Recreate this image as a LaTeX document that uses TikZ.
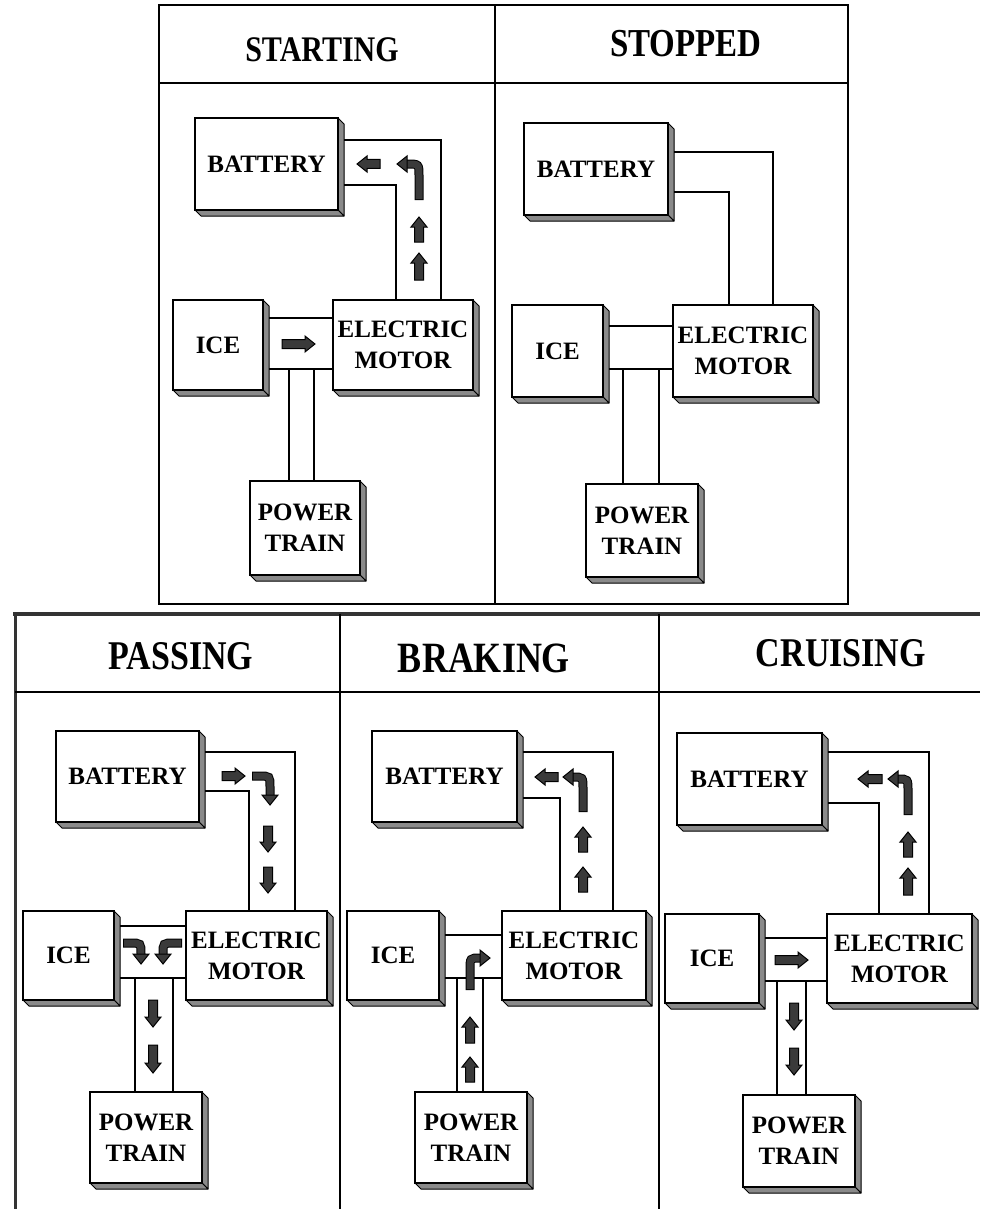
\documentclass[tikz,border=0pt]{standalone}
\usepackage{fontspec}
\setmainfont{Liberation Serif}
\usetikzlibrary{calc}

\definecolor{arrowfill}{HTML}{3A3A3A}
\definecolor{sidegray}{HTML}{8A8A8A}

\tikzset{
  frontface/.style={draw=black, line width=1.6, fill=white, inner sep=0pt, outer sep=0pt,
    align=center, font=\fontsize{25}{31}\selectfont\bfseries},
  sideface/.style={draw=black, line width=1, fill=sidegray, line join=round},
  channel/.style={draw=black, line width=1.6},
  gridline/.style={draw=black, line width=1.8},
  heading/.style={inner sep=0pt, font=\fontsize{#1}{#1}\selectfont\bfseries},
  heading/.default=30,
  pics/head/.style={code={\filldraw[fill=arrowfill, draw=black, line width=1, line join=miter]
      (0,-8) -- (10,0) -- (0,8) -- cycle;}}
}

% a raised box: name, left, top, right, bottom, label
\newcommand\unitbox[6]{%
  \filldraw[sideface] (#4,#3) -- ({#4+6},{#3+6}) -- ({#4+6},{#5+6}) -- (#4,#5) -- cycle;
  \filldraw[sideface] (#2,#5) -- ({#2+6},{#5+6}) -- ({#4+6},{#5+6}) -- (#4,#5) -- cycle;
  \pgfmathsetmacro\uw{#4-#2}\pgfmathsetmacro\uh{#5-#3}%
  \node[frontface, minimum width=\uw pt, minimum height=\uh pt] (#1) at ({(#2+#4)/2},{(#3+#5)/2}) {#6};
}

% straight block arrow: tail x, tail y, direction, length
\newcommand\flowarrow[4]{%
  \begin{scope}[shift={(#1,#2)}, rotate=#3]
    \filldraw[fill=arrowfill, draw=black, line width=1, line join=miter]
      (0,-4.5) -- ({#4-10},-4.5) -- ({#4-10},-8) -- (#4,0) -- ({#4-10},8) -- ({#4-10},4.5) -- (0,4.5) -- cycle;
  \end{scope}}

% bent block arrow: shaft path, head base, head direction
\newcommand\bentarrow[3]{%
  \draw[line width=9, black, line cap=butt] #1;
  \draw[line width=7, arrowfill, line cap=butt, shorten <=1] #1;
  \pic[rotate=#3] at #2 {head};}

\begin{document}
\begin{tikzpicture}[x=1pt, y=-1pt]
\useasboundingbox (0,0) rectangle (980,1209);
\fill[white] (0,0) rectangle (980,1209);

% ---------- upper table ----------
\draw[gridline] (159,5) rectangle (848,604);
\draw[gridline] (495,5) -- (495,604);
\draw[gridline] (159,83) -- (848,83);
\node[heading=30] (hA) at (322,50) {\scalebox{1}[1.2]{STARTING}};
\node[heading=33] (hB) at (686,44) {\scalebox{1}[1.2]{STOPPED}};

% ---------- lower table ----------
\draw[line width=4, black!80] (13,614) -- (980,614);
\draw[line width=3, black!80] (15,612) -- (15,1209);
\draw[gridline] (15,692) -- (980,692);
\draw[gridline] (340,614) -- (340,1209);
\draw[gridline] (659,614) -- (659,1209);
\node[heading=34] (hC) at (181,656) {\scalebox{1}[1.2]{PASSING}};
\node[heading=36] (hD) at (484,658) {\scalebox{1}[1.2]{BRAKING}};
\node[heading=34] (hE) at (841,653) {\scalebox{1}[1.2]{CRUISING}};

% ---------- starting ----------
\unitbox{bA}{195}{118}{338}{210}{BATTERY}
\unitbox{iA}{173}{300}{263}{390}{ICE}
\unitbox{eA}{333}{300}{473}{390}{ELECTRIC\\MOTOR}
\unitbox{pA}{250}{481}{360}{575}{POWER\\TRAIN}
\draw[channel] ($(bA.north east)+(6,22)$) -| ($(eA.north west)+(108,0)$);
\draw[channel] ($(bA.north east)+(6,67)$) -| ($(eA.north west)+(63,0)$);
\draw[channel] ($(iA.north east)+(6,18)$) coordinate (t) -- (t -| eA.west);
\draw[channel] ($(iA.north east)+(6,69)$) coordinate (t) -- (t -| eA.west);
\draw[channel] ($(iA.north east)+(26,69)$) coordinate (t) -- (t |- pA.north);
\draw[channel] ($(iA.north east)+(51,69)$) coordinate (t) -- (t |- pA.north);
\flowarrow{380}{164}{180}{23}
\bentarrow{(419,200) -- (419,176) .. controls (419,164) .. (407,164)}{(407,164)}{180}
\flowarrow{419}{242}{90}{25}
\flowarrow{419}{280}{90}{27}
\flowarrow{282}{344}{0}{33}

% ---------- stopped ----------
\unitbox{bB}{524}{123}{668}{215}{BATTERY}
\unitbox{iB}{512}{305}{603}{397}{ICE}
\unitbox{eB}{673}{305}{813}{397}{ELECTRIC\\MOTOR}
\unitbox{pB}{586}{484}{698}{577}{POWER\\TRAIN}
\draw[channel] ($(bB.north east)+(6,29)$) -| ($(eB.north west)+(100,0)$);
\draw[channel] ($(bB.north east)+(6,69)$) -| ($(eB.north west)+(56,0)$);
\draw[channel] ($(iB.north east)+(6,21)$) coordinate (t) -- (t -| eB.west);
\draw[channel] ($(iB.north east)+(6,64)$) coordinate (t) -- (t -| eB.west);
\draw[channel] ($(iB.north east)+(20,64)$) coordinate (t) -- (t |- pB.north);
\draw[channel] ($(iB.north east)+(56,64)$) coordinate (t) -- (t |- pB.north);

% ---------- passing ----------
\unitbox{bC}{56}{731}{199}{822}{BATTERY}
\unitbox{iC}{23}{911}{114}{1000}{ICE}
\unitbox{eC}{186}{911}{327}{1000}{ELECTRIC\\MOTOR}
\unitbox{pC}{90}{1092}{202}{1183}{POWER\\TRAIN}
\draw[channel] ($(bC.north east)+(6,21)$) -| ($(eC.north west)+(109,0)$);
\draw[channel] ($(bC.north east)+(6,60)$) -| ($(eC.north west)+(63,0)$);
\draw[channel] ($(iC.north east)+(6,15)$) coordinate (t) -- (t -| eC.west);
\draw[channel] ($(iC.north east)+(6,67)$) coordinate (t) -- (t -| eC.west);
\draw[channel] ($(iC.north east)+(21,67)$) coordinate (t) -- (t |- pC.north);
\draw[channel] ($(iC.north east)+(59,67)$) coordinate (t) -- (t |- pC.north);
\flowarrow{222}{776}{0}{23}
\bentarrow{(252,776) -- (259,776) .. controls (270,776) .. (270,787) -- (270,795)}{(270,795)}{270}
\flowarrow{268}{826}{270}{26}
\flowarrow{268}{867}{270}{26}
\bentarrow{(123,943) -- (130,943) .. controls (141,943) .. (141,954)}{(141,954)}{270}
\bentarrow{(182,943) -- (174,943) .. controls (163,943) .. (163,954)}{(163,954)}{270}
\flowarrow{153}{1000}{270}{27}
\flowarrow{153}{1045}{270}{28}

% ---------- braking ----------
\unitbox{bD}{372}{731}{517}{822}{BATTERY}
\unitbox{iD}{347}{911}{439}{1000}{ICE}
\unitbox{eD}{502}{911}{646}{1000}{ELECTRIC\\MOTOR}
\unitbox{pD}{415}{1092}{527}{1183}{POWER\\TRAIN}
\draw[channel] ($(bD.north east)+(6,21)$) -| ($(eD.north west)+(111,0)$);
\draw[channel] ($(bD.north east)+(6,67)$) -| ($(eD.north west)+(58,0)$);
\draw[channel] ($(iD.north east)+(6,24)$) coordinate (t) -- (t -| eD.west);
\draw[channel] ($(iD.north east)+(6,67)$) coordinate (t) -- (t -| eD.west);
\draw[channel] ($(iD.north east)+(18,67)$) coordinate (t) -- (t |- pD.north);
\draw[channel] ($(iD.north east)+(44,67)$) coordinate (t) -- (t |- pD.north);
\flowarrow{558}{777}{180}{23}
\bentarrow{(583,812) -- (583,789) .. controls (583,777) .. (573,777)}{(573,777)}{180}
\flowarrow{583}{852}{90}{25}
\flowarrow{583}{892}{90}{25}
\bentarrow{(470,990) -- (470,970) .. controls (470,958) .. (480,958)}{(480,958)}{0}
\flowarrow{470}{1043}{90}{26}
\flowarrow{470}{1082}{90}{25}

% ---------- cruising ----------
\unitbox{bE}{677}{733}{822}{825}{BATTERY}
\unitbox{iE}{665}{914}{759}{1003}{ICE}
\unitbox{eE}{827}{914}{972}{1003}{ELECTRIC\\MOTOR}
\unitbox{pE}{743}{1095}{855}{1187}{POWER\\TRAIN}
\draw[channel] ($(bE.north east)+(6,19)$) -| ($(eE.north west)+(102,0)$);
\draw[channel] ($(bE.north east)+(6,70)$) -| ($(eE.north west)+(52,0)$);
\draw[channel] ($(iE.north east)+(6,24)$) coordinate (t) -- (t -| eE.west);
\draw[channel] ($(iE.north east)+(6,67)$) coordinate (t) -- (t -| eE.west);
\draw[channel] ($(iE.north east)+(18,67)$) coordinate (t) -- (t |- pE.north);
\draw[channel] ($(iE.north east)+(47,67)$) coordinate (t) -- (t |- pE.north);
\flowarrow{882}{779}{180}{24}
\bentarrow{(908,815) -- (908,791) .. controls (908,779) .. (898,779)}{(898,779)}{180}
\flowarrow{908}{857}{90}{25}
\flowarrow{908}{895}{90}{27}
\flowarrow{775}{960}{0}{33}
\flowarrow{794}{1003}{270}{27}
\flowarrow{794}{1048}{270}{27}
\end{tikzpicture}
\end{document}
